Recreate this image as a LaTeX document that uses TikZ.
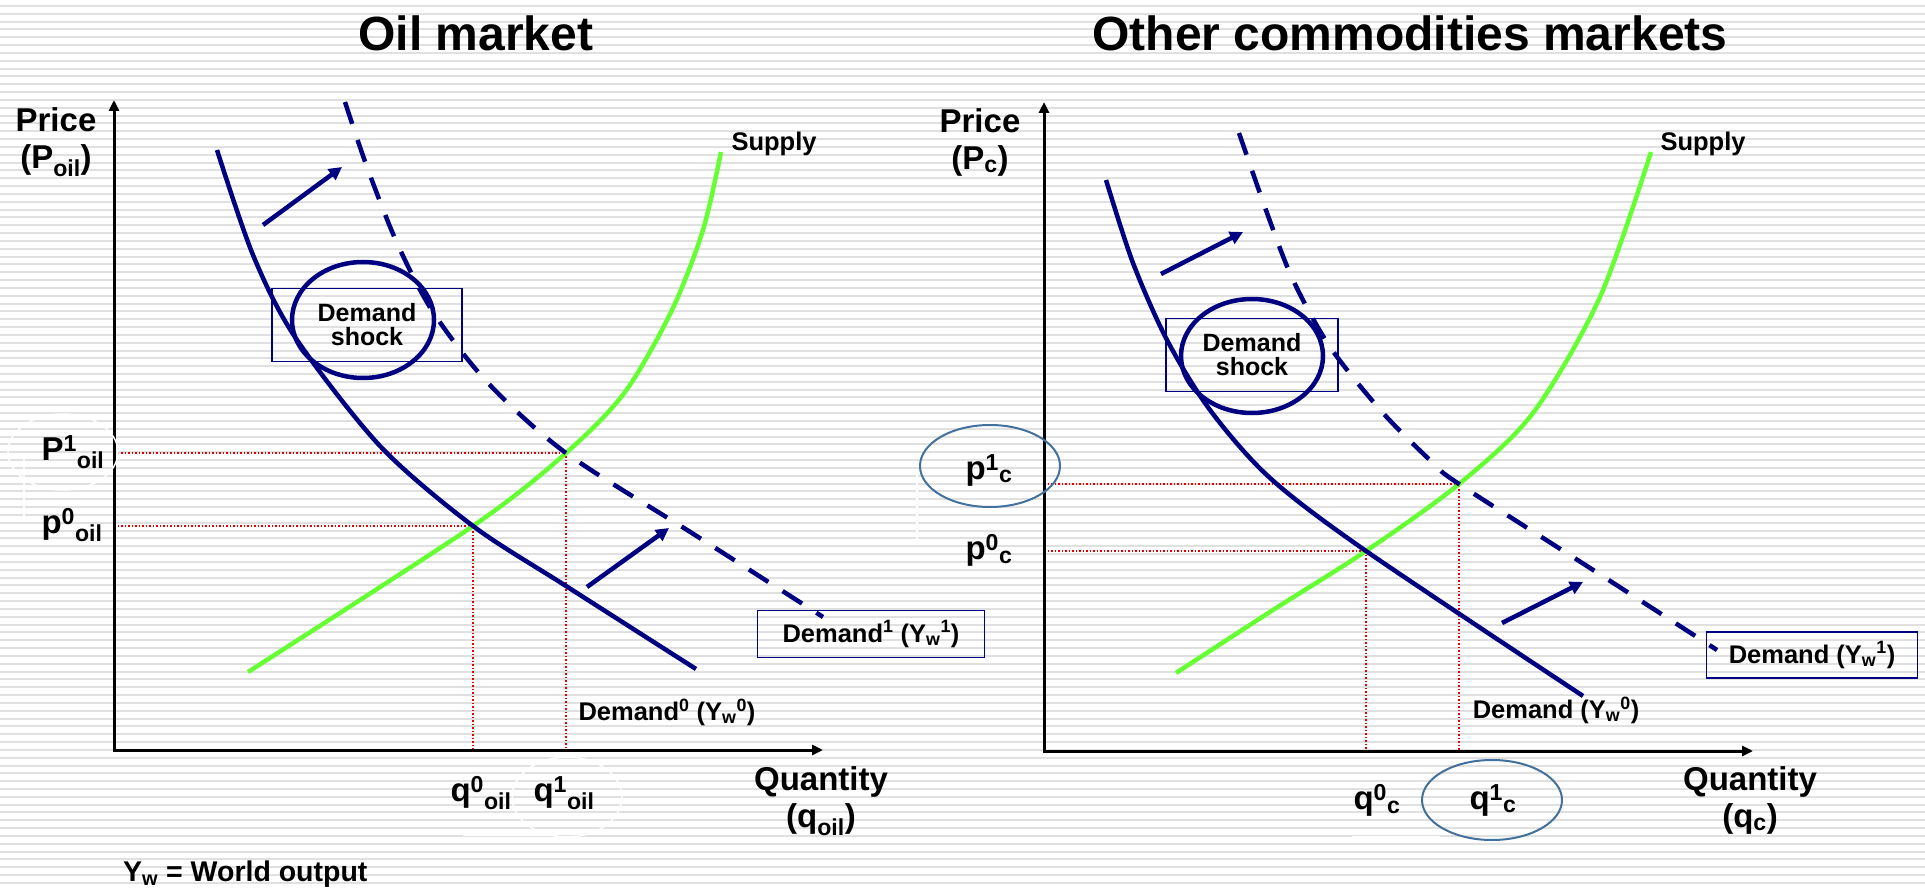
\documentclass[tikz,border=0pt]{standalone}
\usepackage{fontspec}
\setmainfont{Liberation Sans}
\usetikzlibrary{arrows.meta,positioning}
\definecolor{demandNavy}{RGB}{0,0,128}
\definecolor{supplyGreen}{RGB}{102,255,51}
\definecolor{guideRed}{RGB}{230,0,0}
\definecolor{ringBlue}{RGB}{65,113,156}
\definecolor{stripeGray}{RGB}{224,224,224}

\begin{document}
\begin{tikzpicture}[
    x=1pt, y=-1pt,
    title/.style={font=\fontsize{48}{54}\selectfont\bfseries},
    axislabel/.style={font=\fontsize{33}{37}\selectfont\bfseries, align=center, inner sep=0pt},
    curvelabel/.style={font=\fontsize{25.5}{27}\selectfont\bfseries, inner sep=0pt},
    labelbox/.style={curvelabel, draw=demandNavy, line width=1.5pt},
    shockbox/.style={draw=demandNavy, line width=1.5pt, inner sep=0pt, align=center,
        font=\fontsize{25}{24}\selectfont\bfseries},
    axis/.style={line width=3pt, {Triangle[length=11pt,width=10pt]}-{Triangle[length=11pt,width=10pt]}},
    demand/.style={demandNavy, line width=4.5pt},
    shifted/.style={demand, dash pattern=on 23pt off 17pt},
    supply/.style={supplyGreen, line width=4.5pt},
    guide/.style={guideRed, line width=1.4pt, dash pattern=on 1.5pt off 2pt},
    shiftarrow/.style={demandNavy, line width=4.5pt, -{Triangle[length=13pt,width=13pt]}},
    ring/.style={demandNavy, line width=4.5pt},
    bluering/.style={ringBlue, line width=2pt},
    halo/.style={white, line width=1.5pt},
    stripe/.style={stripeGray, line width=2pt}
]
    \useasboundingbox (0,0) rectangle (1925,890);
    % striped slide background
    \fill[white] (0,0) rectangle (1925,890);
    \foreach \k in {0,...,112}
        \draw[stripe] (0,{6+7.83*\k}) -- (1925,{6+7.83*\k});

    % ---------------- oil market ----------------
    \node[title] (oilTitle) at (476,33) {Oil market};
    \coordinate (oilO) at (114,750);
    \coordinate (oilYtop) at (114,100);
    \coordinate (oilXend) at (823,750);
    \coordinate (oilE0) at (473,526);
    \coordinate (oilE1) at (566,453);

    \draw[guide] (oilO |- oilE0) -- (oilE0) -- (oilE0 |- oilO);
    \draw[guide] (oilO |- oilE1) -- (oilE1) -- (oilE1 |- oilO);
    \draw[axis] (oilYtop) -- (oilO) -- (oilXend);

    \draw[supply] plot[smooth] coordinates {(248,672) (473,526) (566,453) (625,392) (672,310) (703,230) (721,152)};
    \draw[demand] plot[smooth] coordinates {(217,150) (253,255) (295,337) (380,446) (473,526) (566,586) (696,669)};
    \draw[shifted] plot[smooth] coordinates {(345,102) (367,167) (397,243) (433,312) (488,383) (566,453) (695,535) (823,617)};

    \coordinate (oilUpA) at (263,225);
    \coordinate (oilUpB) at (342,167);
    \coordinate (oilLowA) at (587,587);
    \coordinate (oilLowB) at (669,528);
    \draw[shiftarrow] (oilUpA) -- (oilUpB);
    \draw[shiftarrow] (oilLowA) -- (oilLowB);

    \node[shockbox, minimum width=190pt, minimum height=73pt] (oilShock) at (367,325) {Demand\\shock};
    \draw[ring] (363,320) ellipse [x radius=71pt, y radius=58pt];

    \node[curvelabel] (oilSupply) at (774,144) {Supply};
    \node[curvelabel] (oilD0) at (667,712) {Demand\textsuperscript{0} (Y\textsubscript{w}\textsuperscript{0})};
    \node[labelbox, minimum width=227pt, minimum height=47pt] (oilD1) at (871,634) {Demand\textsuperscript{1} (Y\textsubscript{w}\textsuperscript{1})};

    \node[axislabel] (oilPrice) at (56,142) {Price\\(P\textsubscript{oil})};
    \node[axislabel] (oilP1) at (73,452) {P\textsuperscript{1}\textsubscript{oil}};
    \node[axislabel] (oilP0) at (72,525) {p\textsuperscript{0}\textsubscript{oil}};
    \node[axislabel] (oilQ0) at (481,793) {q\textsuperscript{0}\textsubscript{oil}};
    \node[axislabel] (oilQ1) at (564,793) {q\textsuperscript{1}\textsubscript{oil}};
    \node[axislabel] (oilQty) at (821,801) {Quantity\\(q\textsubscript{oil})};

    \draw[halo] (63,452) ellipse [x radius=55pt, y radius=38pt];
    \draw[halo] (567,797) ellipse [x radius=55pt, y radius=40pt];
    \draw[halo] (24,453) -- (24,522);
    \draw[halo] (463,835) -- (557,835);

    % ---------------- other commodities ----------------
    \node[title] (comTitle) at (1410,33) {Other commodities markets};
    \coordinate (comO) at (1044,751);
    \coordinate (comYtop) at (1044,102);
    \coordinate (comXend) at (1753,751);
    \coordinate (comE0) at (1366,551);
    \coordinate (comE1) at (1459,484);

    \draw[guide] (comO |- comE0) -- (comE0) -- (comE0 |- comO);
    \draw[guide] (comO |- comE1) -- (comE1) -- (comE1 |- comO);
    \draw[axis] (comYtop) -- (comO) -- (comXend);

    \draw[supply] plot[smooth] coordinates {(1176,673) (1273,610) (1366,551) (1459,484) (1533,413) (1600,297) (1651,152)};
    \draw[demand] plot[smooth] coordinates {(1106,180) (1133,263) (1167,340) (1210,410) (1270,478) (1366,551) (1583,696)};
    \draw[shifted] plot[smooth] coordinates {(1239,133) (1267,213) (1293,280) (1330,347) (1383,413) (1433,463) (1459,484) (1590,568) (1717,650)};

    \coordinate (comUpA) at (1161,274);
    \coordinate (comUpB) at (1243,232);
    \coordinate (comLowA) at (1502,623);
    \coordinate (comLowB) at (1583,582);
    \draw[shiftarrow] (comUpA) -- (comUpB);
    \draw[shiftarrow] (comLowA) -- (comLowB);

    \node[shockbox, minimum width=172pt, minimum height=73pt] (comShock) at (1252,355) {Demand\\shock};
    \draw[ring] (1252,356) ellipse [x radius=71pt, y radius=57pt];

    \node[curvelabel] (comSupply) at (1703,144) {Supply};
    \node[curvelabel] (comD0) at (1556,710) {Demand (Y\textsubscript{w}\textsuperscript{0})};
    \node[labelbox, minimum width=211pt, minimum height=46pt] (comD1) at (1812,655) {Demand (Y\textsubscript{w}\textsuperscript{1})};

    \node[axislabel] (comPrice) at (980,142) {Price\\(P\textsubscript{c})};
    \node[axislabel] (comP1) at (989,470) {p\textsuperscript{1}\textsubscript{c}};
    \node[axislabel] (comP0) at (989,550) {p\textsuperscript{0}\textsubscript{c}};
    \node[axislabel] (comQ0) at (1377,800) {q\textsuperscript{0}\textsubscript{c}};
    \node[axislabel] (comQ1) at (1493,800) {q\textsuperscript{1}\textsubscript{c}};
    \node[axislabel] (comQty) at (1750,800) {Quantity\\(q\textsubscript{c})};

    \draw[bluering] (990,466) ellipse [x radius=70pt, y radius=41pt];
    \draw[bluering] (1492,800) ellipse [x radius=70pt, y radius=40pt];
    \draw[halo] (917,475) -- (917,545);
    \draw[halo] (1352,837) -- (1440,837);

    \node[curvelabel, font=\fontsize{28.5}{30}\selectfont\bfseries, anchor=west] (worldNote) at (123,874) {Y\textsubscript{w} = World output};
\end{tikzpicture}
\end{document}
